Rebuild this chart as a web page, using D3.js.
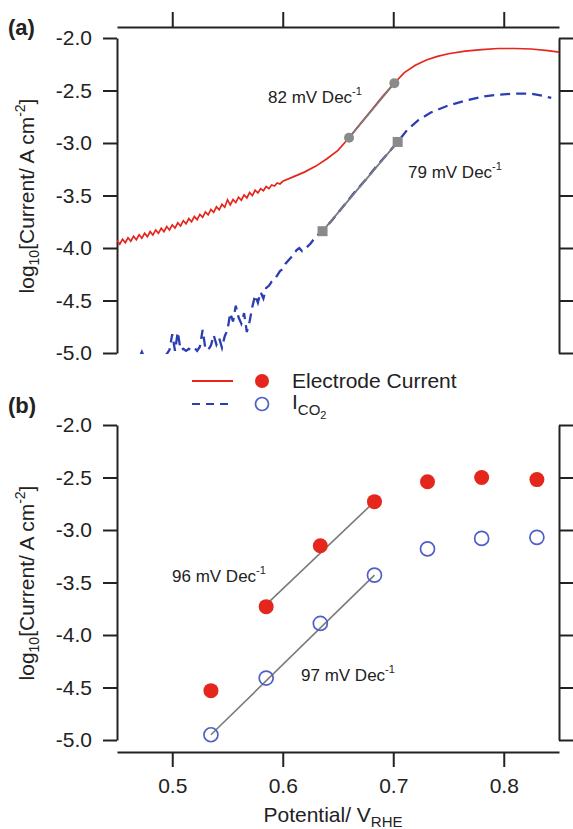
<!DOCTYPE html>
<html><head><meta charset="utf-8">
<script src="https://cdn.jsdelivr.net/npm/d3@7"></script>
<style>body{margin:0;background:#fff} svg text{font-family:"Liberation Sans",Arial,sans-serif;fill:#222}</style>
</head><body><svg id="c" width="573" height="829"></svg>
<script>
// ---- data ----
const xTicks = [0.5, 0.6, 0.7, 0.8];
const yTicks = [-2.0, -2.5, -3.0, -3.5, -4.0, -4.5, -5.0];

// (a) continuous electrode current (log10 A cm^-2) vs potential
const redCurveX = [0.4500,0.4525,0.4550,0.4575,0.4600,0.4625,0.4650,0.4675,0.4700,0.4725,0.4750,0.4775,0.4800,0.4825,0.4850,0.4875,0.4900,0.4925,0.4950,0.4975,
  0.5000,0.5025,0.5050,0.5075,0.5100,0.5125,0.5150,0.5175,0.5200,0.5225,0.5250,0.5275,0.5300,0.5325,0.5350,0.5375,0.5400,0.5425,0.5450,0.5475,
  0.5500,0.5525,0.5550,0.5575,0.5600,0.5625,0.5650,0.5675,0.5700,0.5725,0.5750,0.5775,0.5800,0.5825,0.5850,0.5875,0.5900,0.5925,0.5950,0.5975,
  0.6000,0.6100,0.6200,0.6300,0.6400,0.6500,0.6600,0.6700,0.6800,0.6900,0.7000,0.7100,0.7200,0.7300,0.7400,0.7500,0.7650,0.7800,0.7950,0.8100,0.8250,0.8400,0.8500];
const redCurveY = [-3.930,-3.963,-3.916,-3.949,-3.902,-3.935,-3.888,-3.921,-3.874,-3.907,-3.860,-3.892,-3.844,-3.876,-3.828,-3.860,-3.812,-3.844,-3.796,-3.828,
  -3.780,-3.810,-3.760,-3.790,-3.740,-3.770,-3.720,-3.750,-3.700,-3.730,-3.680,-3.708,-3.656,-3.684,-3.632,-3.660,-3.608,-3.636,-3.584,-3.612,
  -3.540,-3.589,-3.538,-3.567,-3.516,-3.545,-3.494,-3.523,-3.472,-3.501,-3.450,-3.475,-3.435,-3.455,-3.415,-3.435,-3.400,-3.410,-3.380,-3.390,
  -3.365,-3.320,-3.275,-3.220,-3.150,-3.070,-2.950,-2.820,-2.690,-2.560,-2.440,-2.330,-2.260,-2.210,-2.175,-2.150,-2.125,-2.110,-2.100,-2.100,-2.105,-2.120,-2.135];

// (a) continuous CO2 ion current
const blueCurveX = [0.4700,0.4725,0.4750,0.4775,0.4800,0.4825,0.4850,0.4875,0.4900,0.4925,0.4950,0.4975,
  0.5000,0.5025,0.5050,0.5075,0.5100,0.5125,0.5150,0.5175,0.5200,0.5225,0.5250,0.5275,0.5300,0.5325,0.5350,0.5375,0.5400,0.5425,0.5450,0.5475,
  0.5500,0.5525,0.5550,0.5575,0.5600,0.5625,0.5650,0.5675,0.5700,0.5725,0.5750,0.5775,0.5800,0.5825,0.5850,0.5875,0.5900,0.5925,0.5950,0.5975,
  0.6000,0.6025,0.6050,0.6075,0.6100,0.6125,0.6150,0.6175,0.6200,0.6250,0.6300,0.6360,0.6450,0.6550,0.6650,0.6750,0.6850,0.6950,0.7040,
  0.7130,0.7230,0.7340,0.7480,0.7640,0.7800,0.7950,0.8100,0.8250,0.8350,0.8430];
const blueCurveY = [-5.05,-4.99,-5.05,-5.08,-5.06,-4.99,-5.04,-5.08,-5.06,-5.03,-5.01,-4.97,
  -4.82,-4.98,-4.80,-4.97,-4.96,-4.98,-4.96,-4.97,-4.95,-4.98,-4.94,-4.78,-4.96,-4.97,-4.93,-4.83,-4.92,-4.86,-4.95,-4.84,
  -4.78,-4.62,-4.70,-4.55,-4.66,-4.72,-4.62,-4.80,-4.70,-4.56,-4.45,-4.52,-4.42,-4.48,-4.38,-4.36,-4.32,-4.30,-4.26,-4.22,
  -4.20,-4.15,-4.12,-4.09,-4.06,-4.02,-4.00,-4.03,-4.01,-3.96,-3.89,-3.84,-3.73,-3.60,-3.47,-3.35,-3.22,-3.10,-2.99,
  -2.87,-2.78,-2.71,-2.65,-2.60,-2.56,-2.54,-2.53,-2.53,-2.55,-2.57];

// (a) Tafel fit segments
const fitAX = [0.660, 0.701], fitAY = [-2.95, -2.43];
const fitBX = [0.636, 0.704], fitBY = [-3.84, -2.99];

// (b) steady-state points
const potentials = [0.535, 0.585, 0.634, 0.683, 0.731, 0.780, 0.830];
const electrodeCurrent = [-4.53, -3.73, -3.15, -2.73, -2.54, -2.50, -2.52];
const co2Current = [-4.95, -4.41, -3.89, -3.43, -3.18, -3.08, -3.07];
const fitCX = [0.585, 0.683], fitCY = [-3.71, -2.73];
const fitDX = [0.535, 0.683], fitDY = [-4.95, -3.43];

// ---- drawing ----
const RED = "#e5261d", BLUE = "#2b3db3", OPEN = "#4f5fc8", GRAY = "#7a7a7a", AX = "#222";
const svg = d3.select("#c");
svg.append("rect").attr("width", 573).attr("height", 829).attr("fill", "#fff");

const L = 117, R = 559;
const x = d3.scaleLinear().domain([0.45, 0.85]).range([L, R]);
const yA = d3.scaleLinear().domain([-5, -2]).range([353, 38]);
const yB = d3.scaleLinear().domain([-5, -2]).range([740, 425]);
const fmt = d => d.toFixed(1);
const FS = 21;

function styleAxis(g) {
  g.selectAll("path.domain").attr("stroke", AX).attr("stroke-width", 2);
  g.selectAll(".tick line").attr("stroke", AX).attr("stroke-width", 2);
  g.selectAll(".tick text").attr("font-size", FS).attr("fill", AX).style("font-family", '"Liberation Sans",Arial,sans-serif');
}

function yAxes(y) {
  svg.append("g").attr("transform", `translate(${L},0)`)
    .call(d3.axisLeft(y).tickValues(yTicks).tickFormat(fmt).tickSize(14).tickSizeOuter(0).tickPadding(11))
    .call(styleAxis);
  svg.append("g").attr("transform", `translate(${R},0)`)
    .call(d3.axisRight(y).tickValues(yTicks).tickFormat("").tickSize(14).tickSizeOuter(0))
    .call(styleAxis);
}

// panel (a)
svg.append("g").attr("transform", "translate(0,27)")
  .call(d3.axisTop(x).tickValues(xTicks).tickFormat("").tickSize(15).tickSizeOuter(0))
  .call(styleAxis);
yAxes(yA);

// panel (b)
svg.append("g").attr("transform", "translate(0,752)")
  .call(d3.axisBottom(x).tickValues(xTicks).tickFormat(fmt).tickSize(15).tickSizeOuter(0).tickPadding(11))
  .call(styleAxis);
yAxes(yB);

// clip for panel a
svg.append("clipPath").attr("id", "clipA").append("rect")
  .attr("x", L).attr("y", 30).attr("width", R - L + 1).attr("height", 354 - 30);

const lineA = d3.line().x(d => x(d[0])).y(d => yA(d[1]));
const lineB = d3.line().x(d => x(d[0])).y(d => yB(d[1]));
const zip = (a, b) => a.map((v, i) => [v, b[i]]);

const gA = svg.append("g").attr("clip-path", "url(#clipA)");
gA.append("path").attr("d", lineA(zip(blueCurveX, blueCurveY)))
  .attr("fill", "none").attr("stroke", BLUE).attr("stroke-width", 2.3).attr("stroke-dasharray", "10,6");
gA.append("path").attr("d", lineA(zip(redCurveX, redCurveY)))
  .attr("fill", "none").attr("stroke", RED).attr("stroke-width", 1.7);
gA.append("path").attr("d", lineA(zip(fitAX, fitAY)))
  .attr("fill", "none").attr("stroke", GRAY).attr("stroke-width", 1.8);
gA.append("path").attr("d", lineA(zip(fitBX, fitBY)))
  .attr("fill", "none").attr("stroke", GRAY).attr("stroke-width", 1.8);
gA.selectAll("circle.fa").data(zip(fitAX, fitAY)).join("circle")
  .attr("cx", d => x(d[0])).attr("cy", d => yA(d[1])).attr("r", 5).attr("fill", "#8a8a8a");
gA.selectAll("rect.fb").data(zip(fitBX, fitBY)).join("rect")
  .attr("x", d => x(d[0]) - 5).attr("y", d => yA(d[1]) - 5).attr("width", 10).attr("height", 10).attr("fill", "#8a8a8a");

// panel b marks
svg.append("path").attr("d", lineB(zip(fitCX, fitCY))).attr("fill", "none").attr("stroke", GRAY).attr("stroke-width", 1.6);
svg.append("path").attr("d", lineB(zip(fitDX, fitDY))).attr("fill", "none").attr("stroke", GRAY).attr("stroke-width", 1.6);
svg.selectAll("circle.ec").data(zip(potentials, electrodeCurrent)).join("circle").attr("class", "ec")
  .attr("cx", d => x(d[0])).attr("cy", d => yB(d[1])).attr("r", 7.5).attr("fill", RED);
svg.selectAll("circle.co").data(zip(potentials, co2Current)).join("circle").attr("class", "co")
  .attr("cx", d => x(d[0])).attr("cy", d => yB(d[1])).attr("r", 7).attr("fill", "none")
  .attr("stroke", OPEN).attr("stroke-width", 1.7);

// annotations
function slopeLabel(tx, ty, num, fs) {
  const t = svg.append("text").attr("x", tx).attr("y", ty).attr("font-size", fs);
  t.append("tspan").text(num + " mV Dec");
  t.append("tspan").attr("dy", -8).attr("font-size", fs * 0.65).text("-1");
}
slopeLabel(268, 103, "82", 17);
slopeLabel(408, 178, "79", 17);
slopeLabel(172, 582, "96", 17);
slopeLabel(301, 681, "97", 17);

// y titles
function yTitle(cy) {
  const t = svg.append("text").attr("transform", `translate(34,${cy}) rotate(-90)`)
    .attr("text-anchor", "middle").attr("font-size", FS);
  t.append("tspan").text("log");
  t.append("tspan").attr("dy", 5).attr("font-size", 14).text("10");
  t.append("tspan").attr("dy", -5).text("[Current/ A cm");
  t.append("tspan").attr("dy", -9).attr("font-size", 14).text("-2");
  t.append("tspan").attr("dy", 9).text("]");
}
yTitle(196);
yTitle(583);

// x title
const xt = svg.append("text").attr("x", 333).attr("y", 822).attr("text-anchor", "middle").attr("font-size", FS);
xt.append("tspan").text("Potential/ V");
xt.append("tspan").attr("dy", 5).attr("font-size", 15).text("RHE");

// panel labels
svg.append("text").attr("x", 8).attr("y", 35).attr("font-size", 22).attr("font-weight", "bold").text("(a)");
svg.append("text").attr("x", 8).attr("y", 413).attr("font-size", 22).attr("font-weight", "bold").text("(b)");

// legend
svg.append("line").attr("x1", 192).attr("x2", 233).attr("y1", 381).attr("y2", 381).attr("stroke", RED).attr("stroke-width", 1.8);
svg.append("circle").attr("cx", 262).attr("cy", 381).attr("r", 7).attr("fill", RED);
svg.append("text").attr("x", 292).attr("y", 388).attr("font-size", FS).text("Electrode Current");
svg.append("line").attr("x1", 192).attr("x2", 233).attr("y1", 404).attr("y2", 404).attr("stroke", BLUE).attr("stroke-width", 2.2).attr("stroke-dasharray", "8,6");
svg.append("circle").attr("cx", 262).attr("cy", 404).attr("r", 6.5).attr("fill", "none").attr("stroke", OPEN).attr("stroke-width", 1.7);
const lt = svg.append("text").attr("x", 292).attr("y", 409).attr("font-size", FS);
lt.append("tspan").text("I");
lt.append("tspan").attr("dy", 6).attr("font-size", 15).text("CO");
lt.append("tspan").attr("dy", 4).attr("font-size", 11).text("2");
</script></body></html>
